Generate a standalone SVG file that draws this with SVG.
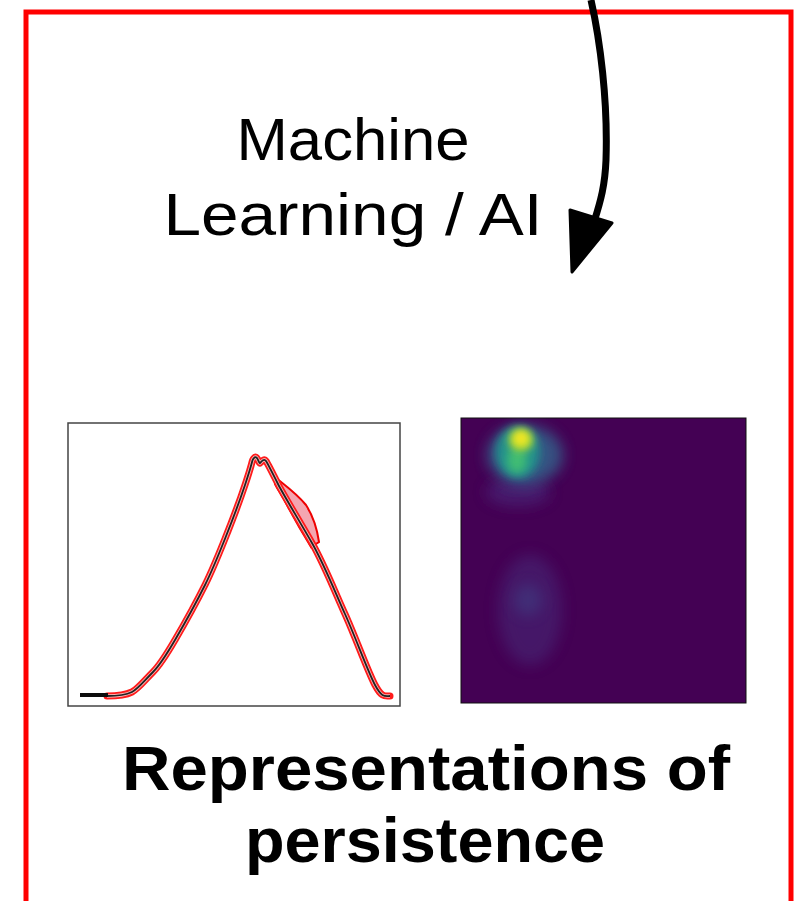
<svg xmlns="http://www.w3.org/2000/svg" width="801" height="901" viewBox="0 0 801 901">
<style>
.lbl{font-family:"Liberation Sans",Arial,sans-serif;fill:#000;text-anchor:middle}
.big{font-weight:bold}
</style>
<defs>
<filter id="blur" x="-50%" y="-50%" width="200%" height="200%"><feGaussianBlur stdDeviation="7"/></filter>
<filter id="blur2" x="-50%" y="-50%" width="200%" height="200%"><feGaussianBlur stdDeviation="4"/></filter>
<filter id="soft" x="-10%" y="-10%" width="120%" height="120%"><feGaussianBlur stdDeviation="0.5"/></filter>
<clipPath id="hm"><rect x="461" y="418" width="285" height="285"/></clipPath>
<path id="curve" d="M107 696 C118 696 126 695 132 692 S145 680 153 672 S168 652 175 640 S195 605 205 585 S235 515 245 485 S251 462 254 458 S259 464 260 463 S264 458 266 461 S273 474 278 484 S300 522 312 543 S335 592 345 614 S368 672 375 685 S385 696 390 696"/>
</defs>
<rect width="801" height="901" fill="#fff"/>
<g id="frame">
<rect x="26" y="12" width="765" height="1000" fill="none" stroke="#ff0000" stroke-width="5"/>
</g>
<g id="connectors">
<path d="M591 0 C600 40 608 100 606 160 C605 185 601 200 594 222" fill="none" stroke="#000" stroke-width="7"/>
<polygon points="572,272 570,210 612,223" fill="#000" stroke="#000" stroke-width="3" stroke-linejoin="round"/>
</g>
<g id="ml-label">
<text class="lbl" x="353" y="160" font-size="60" textLength="233" lengthAdjust="spacingAndGlyphs">Machine</text>
<text class="lbl" x="353" y="235" font-size="60" textLength="379" lengthAdjust="spacingAndGlyphs">Learning / AI</text>
</g>
<g id="landscape-plot">
<rect x="68" y="423" width="332" height="283" fill="#fff" stroke="#444" stroke-width="1.5"/>
<g filter="url(#soft)">
<path d="M276 478 C286 486 297 494 306 505 C313 516 317 528 319 542 L311 547 C303 534 295 520 288 507 C283 497 278 490 275 484 Z" fill="#f4a6b0" stroke="#e00" stroke-width="2"/>
<use href="#curve" fill="none" stroke="#ff1a1a" stroke-width="7" stroke-linejoin="round" stroke-linecap="round"/>
<use href="#curve" fill="none" stroke="#f9b4b4" stroke-width="3.5" stroke-linejoin="round"/>
<use href="#curve" fill="none" stroke="#222" stroke-width="1.8" stroke-linejoin="round"/>
<path d="M80 695 L108 695" stroke="#111" stroke-width="4"/>
</g>
</g>
<g id="heatmap">
<rect x="461" y="418" width="285" height="285" fill="#440154" stroke="#111" stroke-width="1"/>
<g clip-path="url(#hm)">
<ellipse cx="530" cy="610" rx="32" ry="55" fill="#472d7b" opacity="0.5" filter="url(#blur)"/>
<ellipse cx="528" cy="600" rx="14" ry="16" fill="#3e4a89" opacity="0.45" filter="url(#blur)"/>
<ellipse cx="518" cy="492" rx="32" ry="14" fill="#482878" opacity="0.7" filter="url(#blur)"/>
<ellipse cx="525" cy="455" rx="38" ry="30" fill="#31688e" opacity="0.8" filter="url(#blur)"/>
<ellipse cx="518" cy="452" rx="22" ry="26" fill="#21918c" filter="url(#blur2)"/>
<ellipse cx="517" cy="460" rx="10" ry="13" fill="#3fbc73" filter="url(#blur2)"/>
<ellipse cx="521" cy="440" rx="12" ry="11" fill="#b5de2b" filter="url(#blur2)"/>
<ellipse cx="521" cy="438" rx="7" ry="7" fill="#fde725" filter="url(#blur2)"/>
</g>
</g>
<g id="title">
<text class="lbl big" x="426" y="790" font-size="63" textLength="608" lengthAdjust="spacingAndGlyphs">Representations of</text>
<text class="lbl big" x="425" y="862" font-size="63" textLength="360" lengthAdjust="spacingAndGlyphs">persistence</text>
</g>
</svg>
